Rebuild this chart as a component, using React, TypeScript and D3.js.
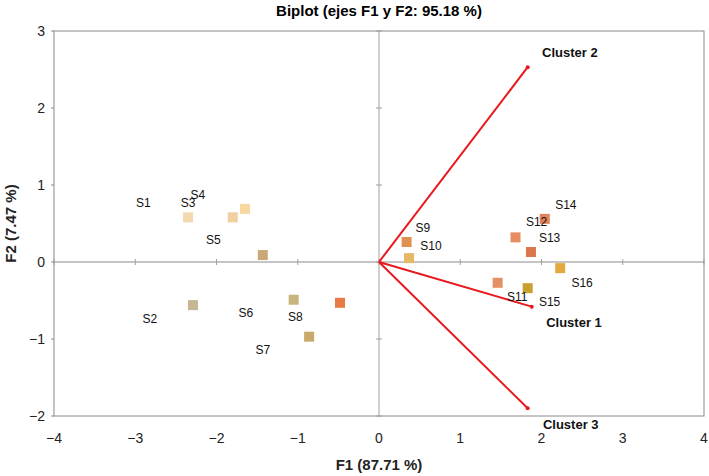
import React from "react";
import * as d3 from "d3";

const obsX = [-2.35, -1.80, -1.65, -1.43, -2.29, -1.05, -0.48, -0.86, 0.34, 0.37, 1.68, 2.04, 1.87, 2.23, 1.46, 1.83];
const obsY = [0.58, 0.58, 0.69, 0.09, -0.56, -0.49, -0.53, -0.97, 0.26, 0.05, 0.32, 0.56, 0.13, -0.08, -0.27, -0.34];
const obsColors = ["#f4d9b0", "#f2cfa0", "#f6d8a0", "#c9a877", "#c6b691", "#c8b47e", "#e87a46", "#c8aa6a", "#e0914f", "#e4b865", "#e88c62", "#e3835a", "#d9784c", "#e3a840", "#e39065", "#c9a030"];

const labelNames = ["S1", "S2", "S3", "S4", "S5", "S6", "S7", "S8", "S9", "S10", "S11", "S12", "S13", "S14", "S15", "S16"];
const labelX = [-2.90, -2.82, -2.35, -2.23, -2.04, -1.64, -1.43, -1.03, 0.54, 0.64, 1.70, 1.94, 2.10, 2.30, 2.10, 2.50];
const labelY = [0.77, -0.74, 0.77, 0.87, 0.29, -0.66, -1.14, -0.71, 0.44, 0.21, -0.45, 0.52, 0.31, 0.74, -0.52, -0.27];

const varNames = ["Cluster 1", "Cluster 2", "Cluster 3"];
const varX = [1.88, 1.83, 1.83];
const varY = [-0.58, 2.53, -1.90];
const varLabelX = [2.40, 2.35, 2.36];
const varLabelY = [-0.78, 2.73, -2.10];

const xTicks = [-4, -3, -2, -1, 0, 1, 2, 3, 4];
const yTicks = [-2, -1, 0, 1, 2, 3];

export default function App() {
  const W = 709, H = 476;
  const x = d3.scaleLinear().domain([-4, 4]).range([54, 704]);
  const y = d3.scaleLinear().domain([-2, 3]).range([416, 31]);
  const font = "Liberation Sans, Arial, sans-serif";
  const fmt = (v: number) => (v < 0 ? "\u2212" + Math.abs(v) : String(v));
  const s = 10;
  return (
    <svg width={W} height={H} style={{ position: "absolute", left: 0, top: 0 }} fontFamily={font}>
      <rect x={0} y={0} width={W} height={H} fill="#fff" />
      <text x={379} y={16} textAnchor="middle" fontSize={15} fontWeight="bold" fill="#000">
        Biplot (ejes F1 y F2: 95.18 %)
      </text>
      <rect x={x(-4)} y={y(3)} width={x(4) - x(-4)} height={y(-2) - y(3)} fill="none" stroke="#8a8a8a" strokeWidth={1} />
      <line x1={x(0)} x2={x(0)} y1={y(3)} y2={y(-2)} stroke="#a0a0a0" strokeWidth={1} />
      <line x1={x(-4)} x2={x(4)} y1={y(0)} y2={y(0)} stroke="#8a8a8a" strokeWidth={1} />
      {xTicks.map((t) => (
        <g key={"xt" + t}>
          <line x1={x(t)} x2={x(t)} y1={y(0) - 3} y2={y(0) + 3} stroke="#a0a0a0" />
          <text x={x(t)} y={y(-2) + 27} textAnchor="middle" fontSize={14} fill="#222">{fmt(t)}</text>
        </g>
      ))}
      {yTicks.map((t) => (
        <g key={"yt" + t}>
          <line x1={x(0) - 3} x2={x(0) + 3} y1={y(t)} y2={y(t)} stroke="#a0a0a0" />
          <line x1={x(-4) - 3} x2={x(-4)} y1={y(t)} y2={y(t)} stroke="#8a8a8a" />
          <text x={x(-4) - 9} y={y(t) + 5} textAnchor="end" fontSize={14} fill="#222">{fmt(t)}</text>
        </g>
      ))}
      <text x={379} y={470} textAnchor="middle" fontSize={15} fontWeight="bold" fill="#222">F1 (87.71 %)</text>
      <text transform={`translate(16,${y(0.5)}) rotate(-90)`} textAnchor="middle" fontSize={15} fontWeight="bold" fill="#222">F2 (7.47 %)</text>
      {varNames.map((n, i) => (
        <g key={n}>
          <line x1={x(0)} y1={y(0)} x2={x(varX[i])} y2={y(varY[i])} stroke="#e8191c" strokeWidth={2} />
          <circle cx={x(varX[i])} cy={y(varY[i])} r={2} fill="#e8191c" />
          <text x={x(varLabelX[i])} y={y(varLabelY[i]) + 5} textAnchor="middle" fontSize={13} fontWeight="bold" fill="#111">{n}</text>
        </g>
      ))}
      {obsX.map((v, i) => (
        <rect key={"o" + i} x={x(v) - s / 2} y={y(obsY[i]) - s / 2} width={s} height={s} fill={obsColors[i]} />
      ))}
      {labelNames.map((n, i) => (
        <text key={n} x={x(labelX[i])} y={y(labelY[i]) + 4} textAnchor="middle" fontSize={12} fill="#111">{n}</text>
      ))}
    </svg>
  );
}
